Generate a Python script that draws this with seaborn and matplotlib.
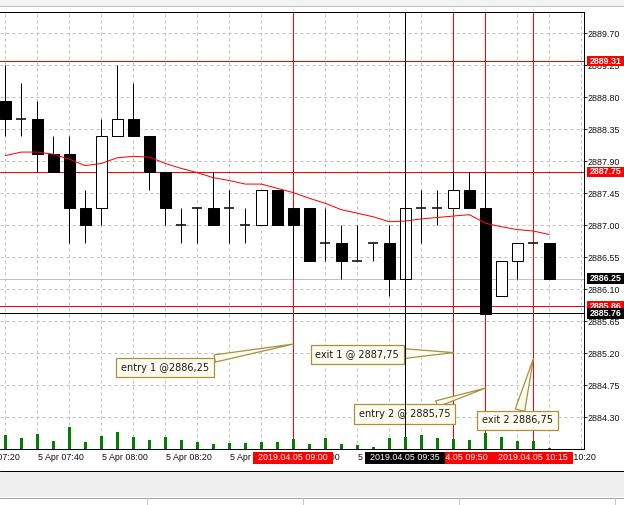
import numpy as np
import pandas as pd
import seaborn as sns
import matplotlib
matplotlib.use("Agg")
import matplotlib.pyplot as plt
from matplotlib import font_manager, transforms
from matplotlib.patches import Rectangle
from matplotlib.lines import Line2D
from matplotlib.path import Path

sns.set_style("white")

# axis font: narrow if we have it
names = {f.name for f in font_manager.fontManager.ttflist}
if "Liberation Sans Narrow" in names:
    axis_font, axis_size = "Liberation Sans Narrow", 7.8
elif "Liberation Sans" in names:
    axis_font, axis_size = "Liberation Sans", 6.4
else:
    axis_font, axis_size = "DejaVu Sans", 5.6
plt.rcParams["font.family"] = ["DejaVu Sans"]

#%% data: 5 min bars, 5 Apr 2019
times = pd.date_range("2019-04-05 07:30", "2019-04-05 10:20", freq="5min")
open_ = [2888.75, 2888.50, 2888.50, 2888.00, 2888.00, 2887.25, 2887.25, 2888.25, 2888.50,
         2888.25, 2887.75, 2887.00, 2887.25, 2887.25, 2887.25, 2887.00, 2887.00, 2887.50,
         2887.25, 2887.25, 2886.75, 2886.75, 2886.50, 2886.75, 2886.75, 2886.25, 2887.25,
         2887.25, 2887.25, 2887.50, 2887.25, 2886.00, 2886.50, 2886.75, 2886.75]
high = [2889.25, 2889.00, 2888.75, 2888.25, 2888.25, 2887.50, 2888.50, 2889.25, 2889.00,
        2888.25, 2887.75, 2887.25, 2887.25, 2887.75, 2887.50, 2887.25, 2887.50, 2887.50,
        2887.25, 2887.25, 2887.25, 2887.00, 2887.00, 2886.75, 2887.00, 2887.25, 2887.50,
        2887.50, 2887.75, 2887.75, 2887.75, 2886.50, 2886.75, 2886.75, 2886.75]
low = [2888.25, 2888.25, 2887.75, 2887.75, 2886.75, 2886.75, 2887.00, 2888.25, 2888.25,
       2887.50, 2887.00, 2886.75, 2886.75, 2887.00, 2886.75, 2886.75, 2887.00, 2887.00,
       2886.25, 2886.50, 2886.50, 2886.25, 2886.50, 2886.50, 2886.00, 2886.25, 2886.75,
       2887.00, 2887.25, 2887.25, 2885.75, 2886.00, 2886.25, 2886.75, 2886.25]
close = [2888.50, 2888.50, 2888.00, 2887.75, 2887.25, 2887.00, 2888.25, 2888.50, 2888.25,
         2887.75, 2887.25, 2887.00, 2887.25, 2887.00, 2887.25, 2887.00, 2887.50, 2887.00,
         2887.00, 2886.50, 2886.75, 2886.50, 2886.50, 2886.75, 2886.25, 2887.25, 2887.25,
         2887.25, 2887.50, 2887.25, 2885.75, 2886.50, 2886.75, 2886.75, 2886.25]
volume = [560, 440, 600, 320, 880, 280, 520, 680, 480, 360, 480, 360, 280, 200, 240, 240,
          280, 280, 400, 200, 440, 200, 160, 80, 440, 480, 560, 440, 400, 360, 640, 480,
          320, 320, 40]
ma = [2887.98, 2888.03, 2888.03, 2888.00, 2887.93, 2887.84, 2887.87, 2887.95, 2887.97,
      2887.96, 2887.87, 2887.80, 2887.74, 2887.67, 2887.63, 2887.58, 2887.58, 2887.52,
      2887.46, 2887.38, 2887.31, 2887.22, 2887.17, 2887.12, 2887.05, 2887.06, 2887.09,
      2887.11, 2887.13, 2887.15, 2887.03, 2886.98, 2886.94, 2886.92, 2886.87]

# vertical time lines
event_times = ["09:00", "09:35", "09:50", "10:00", "10:15"]
event_colors = ["red", "black", "red", "red", "red"]
event_labels = [True, True, True, False, True]

# horizontal price levels: line colour, label colour
level_prices = [2889.31, 2887.75, 2886.25, 2885.86, 2885.76]
level_line_colors = ["red", "red", "#C0C0C0", "red", "black"]
level_label_colors = ["red", "red", "black", "red", "black"]

# trade callouts
callout_texts = ["entry 1 @2886,25", "exit 1 @ 2887,75", "entry 2 @ 2885,75", "exit 2 2886,75"]
callout_times = ["09:00", "09:50", "10:00", "10:15"]

#%% helpers
step = pd.Timedelta("5min")
day = "2019-04-05 "
def to_idx(t):
    return (pd.Timestamp(t) - times[0]) / step

df = pd.DataFrame({"open": open_, "high": high, "low": low, "close": close,
                   "volume": volume, "ma": ma})
df["idx"] = np.arange(len(df))

def pad_box(px, py):
    def box(x0, y0, width, height, mutation_size):
        x0, y0 = x0 - px, y0 - py
        x1, y1 = x0 + width + 2 * px, y0 + height + 2 * py
        return Path([(x0, y0), (x1, y0), (x1, y1), (x0, y1), (x0, y0)], closed=True)
    return box

W, H = 624, 505
fig = plt.figure(figsize=(W / 100, H / 100), dpi=100)
ax = fig.add_axes([0, 56 / H, 584 / W, 437 / H])
px_lw = 0.72

#%% candles
doji = df.close == df.open
ax.vlines(df.idx, df.low, df.high, color="black", lw=px_lw, zorder=3.5)
body = df.loc[~doji]
ax.bar(body.idx, body.close - body.open, bottom=body.open, width=0.67,
       color=np.where(body.close > body.open, "white", "black"),
       edgecolor="black", linewidth=px_lw, zorder=4)
d = df.loc[doji]
ax.hlines(d.close, d.idx - 0.3, d.idx + 0.3, color="black", lw=1.1, zorder=4)

sns.lineplot(x=df.idx, y=df.ma, color="red", lw=px_lw, ax=ax, zorder=5, legend=False)

#%% levels and time lines
for p, lc in zip(level_prices, level_line_colors):
    ax.axhline(p, color=lc, lw=px_lw, zorder=2)

for t, c in zip(event_times, event_colors):
    ax.axvline(to_idx(day + t), color=c, lw=px_lw, zorder=7 if c == "black" else 2)

#%% callouts
layout = [  # tip price, text offset (px), wedge width
    (2885.33, (-128, -23.5), 0.75),
    (2885.21, (-96, -2), 1.0),
    (2884.71, (-80.5, -26), 0.65),
    (2885.12, (-16, -61.5), 1.0),
]
edge = "#A8903E"
fill = "#FFFCEF"
for txt, t, (tip, off, tw) in zip(callout_texts, callout_times, layout):
    ax.annotate(txt, xy=(to_idx(day + t), tip), xycoords="data",
                xytext=off, textcoords="offset pixels", ha="center", va="center",
                fontsize=7.0, color="#1a1a1a", zorder=6, annotation_clip=False,
                bbox=dict(boxstyle="square,pad=0.5", fc=fill, ec=edge, lw=0.9),
                arrowprops=dict(arrowstyle=f"wedge,tail_width={tw}", fc=fill, ec=edge,
                                lw=0.9, shrinkA=0, shrinkB=0))

#%% axes
ax.set_xlim(-0.331, -0.331 + 584 / 16)
ax.set_ylim(2883.854, 2890.0)
ax.set_xlabel("")
ax.set_ylabel("")

yt = np.round(np.arange(2884.30, 2889.71, 0.45), 2)
ax.set_yticks(yt, [f"{v:.2f}" for v in yt])
ax.yaxis.tick_right()
ax.tick_params(axis="y", length=2.2, width=px_lw, pad=0.6, direction="out",
               labelsize=axis_size, labelcolor="#111111", labelfontfamily=axis_font)

ax.set_xticks(np.arange(0, 37, 2), [""] * 19)
label_times = pd.date_range(day + "07:20", day + "10:20", freq="20min")
label_idx = [to_idx(t) for t in label_times]
ax.set_xticks([i for i in label_idx if i > 0], minor=True)
ax.tick_params(axis="x", which="major", length=0)
ax.tick_params(axis="x", which="minor", length=2.2, width=px_lw, direction="out")

ax.set_axisbelow(True)
ax.grid(True, which="major", color="#C0C0C0", linestyle=(0, (3, 3)), linewidth=px_lw)
for s in ["top", "right", "bottom"]:
    ax.spines[s].set_color("black")
    ax.spines[s].set_linewidth(px_lw)
ax.spines["left"].set_visible(False)

lab_y = (449 - 458) / 437
xtrans = transforms.blended_transform_factory(ax.transData, ax.transAxes)
for t, i in zip(label_times, label_idx):
    ax.text(i + 0.05, lab_y, t.strftime("5 Apr %H:%M"), transform=xtrans, ha="left",
            va="center", fontsize=axis_size, family=axis_font, color="#111111",
            clip_on=False, zorder=5)

for t, c, show in zip(event_times, event_colors, event_labels):
    if not show:
        continue
    ax.text(to_idx(day + t), lab_y, f"2019.04.05 {t}", transform=xtrans, ha="center",
            va="center", fontsize=axis_size, family=axis_font, color="white",
            clip_on=False, zorder=9 if c == "black" or t == "10:15" else 8,
            bbox=dict(boxstyle=pad_box(5, 1.2), fc=c, ec="none"))

for k, (p, c) in enumerate(zip(level_prices, level_label_colors)):
    ax.annotate(f"{p:.2f}", xy=(1, p), xycoords=("axes fraction", "data"),
                xytext=(5.5, 0), textcoords="offset pixels", ha="left", va="center",
                fontsize=axis_size, family=axis_font, fontweight="bold", color="white",
                annotation_clip=False, zorder=10 + k,
                bbox=dict(boxstyle=pad_box(2.5, 0.8), fc=c, ec="none"))

#%% volumes
vol_ax = fig.add_axes(ax.get_position(), sharex=ax)
vol_ax.patch.set_visible(False)
vol_ax.vlines(df.idx, 0, df.volume, color="#008000", lw=1.0, antialiased=False)
vol_ax.set_ylim(0, max(volume) * 437 / 22)
vol_ax.axis("off")

#%% window chrome
def fy(y):
    return 1 - y / H
fig.add_artist(Rectangle((0, fy(5.5)), 1, 5.5 / H, transform=fig.transFigure,
                         fc="#F3F3F3", ec="none"))
fig.add_artist(Line2D([0, 1], [fy(5.5)] * 2, color="#BDBDBD", lw=px_lw))
fig.add_artist(Rectangle((0, fy(497)), 1, 26.5 / H, transform=fig.transFigure,
                         fc="#F0F0F0", ec="none"))
fig.add_artist(Line2D([0, 1], [fy(470.5)] * 2, color="black", lw=px_lw))
fig.add_artist(Line2D([0, 1], [fy(497.5)] * 2, color="#A0A0A0", lw=px_lw))
for x in [146.6, 302.8, 459, 615]:
    fig.add_artist(Line2D([x / W] * 2, [fy(498), 0], color="#C8C8C8", lw=px_lw))

fig.savefig("out.png", dpi=100)
